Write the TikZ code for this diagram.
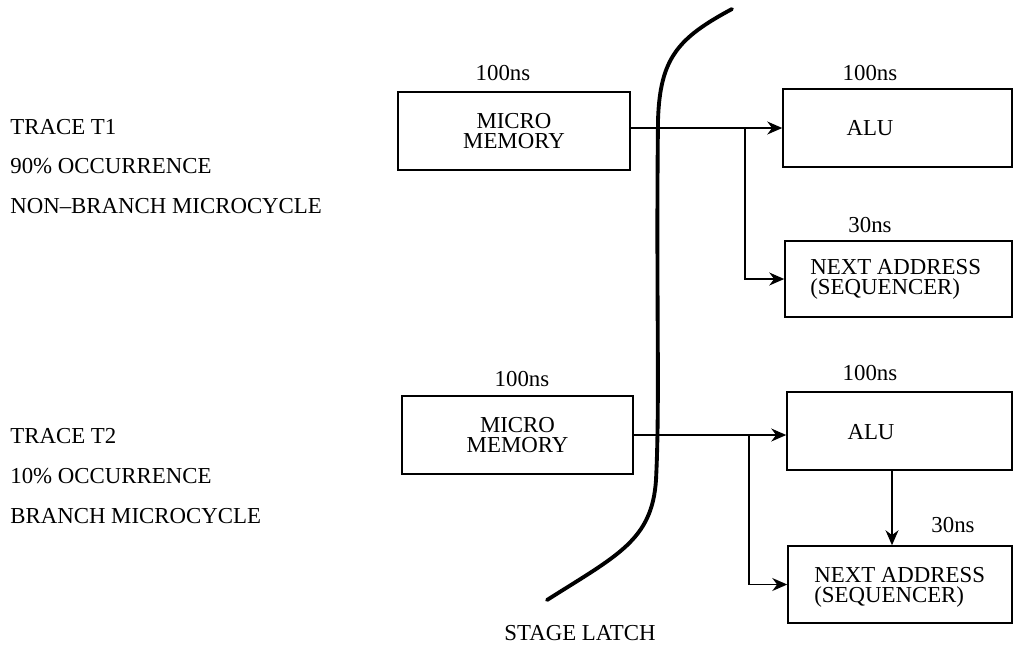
\documentclass[tikz,border=0pt]{standalone}
\usepackage{fontspec}
\setmainfont{Liberation Serif}
\usetikzlibrary{positioning, arrows.meta}
\tikzset{
  block/.style={rectangle, draw=black, line width=0.9pt, minimum height=1.56cm, inner sep=0pt},
  txt/.style={font=\fontsize{13pt}{11.5pt}\selectfont, align=left, inner sep=0pt},
  arrow/.style={line width=0.75pt, -{Stealth[length=3mm, width=2.6mm]}},
  latch/.style={line width=2.2pt, line cap=round}
}

\begin{document}
\begin{tikzpicture}[x=0.02cm, y=-0.02cm]

    \useasboundingbox (0,0) rectangle (1014,657);

    % -------------------------------------------------------------
    % TRAZAS (texto izquierdo)
    % -------------------------------------------------------------
    \node[txt, anchor=west] (t1a) at (10,127) {TRACE T1};
    \node[txt, anchor=west] (t1b) at (10,166) {90\% OCCURRENCE};
    \node[txt, anchor=west] (t1c) at (10,206) {NON--BRANCH MICROCYCLE};

    \node[txt, anchor=west] (t2a) at (10,436) {TRACE T2};
    \node[txt, anchor=west] (t2b) at (10,476) {10\% OCCURRENCE};
    \node[txt, anchor=west] (t2c) at (10,516) {BRANCH MICROCYCLE};

    % -------------------------------------------------------------
    % TRAZA T1
    % -------------------------------------------------------------
    \node[block, txt, align=center, minimum width=4.64cm] (mm1) at (514,131) {MICRO\\MEMORY};
    \node[txt] (mm1t) at (503,73) {100ns};

    \node[block, minimum width=4.58cm] (alu1) at (897.5,128) {};
    \node[txt] (alu1n) at (870,128) {ALU};
    \node[txt] (alu1t) at (870,73) {100ns};

    \node[block, minimum width=4.54cm, minimum height=1.52cm] (na1) at (898.5,279) {};
    \node[txt, anchor=west] (na1n) at (810,279) {NEXT ADDRESS\\(SEQUENCER)};
    \node[txt] (na1t) at (870,225) {30ns};

    \coordinate (br1) at (745,0);
    \draw[arrow] (mm1.east |- alu1.west) -- (alu1.west);
    \draw[arrow] (br1 |- alu1.west) |- (na1.west);

    % -------------------------------------------------------------
    % TRAZA T2
    % -------------------------------------------------------------
    \node[block, txt, align=center, minimum width=4.62cm] (mm2) at (517.5,435) {MICRO\\MEMORY};
    \node[txt] (mm2t) at (522,379) {100ns};

    \node[block, minimum width=4.5cm] (alu2) at (899.5,431) {};
    \node[txt] (alu2n) at (871,432) {ALU};
    \node[txt] (alu2t) at (870,373) {100ns};

    \node[block, minimum width=4.48cm, minimum height=1.54cm] (na2) at (900,584.5) {};
    \node[txt, anchor=west] (na2n) at (814,587) {NEXT ADDRESS\\(SEQUENCER)};
    \node[txt] (na2t) at (953,525) {30ns};

    \coordinate (br2) at (749,0);
    \coordinate (br3) at (892,0);
    \draw[arrow] (mm2.east) -- (mm2.east -| alu2.west);
    \draw[arrow] (br2 |- mm2.east) |- (na2.west);
    \draw[arrow] (br3 |- alu2.south) -- (br3 |- na2.north);

    % -------------------------------------------------------------
    % STAGE LATCH
    % -------------------------------------------------------------
    \draw[latch] (732,9) .. controls (678,38) and (660,58) .. (658,120)
        .. controls (656,300) and (660,400) .. (656,480)
        .. controls (652,540) and (618,555) .. (547,600);
    \node[txt] (sl) at (580,633) {STAGE LATCH};

\end{tikzpicture}
\end{document}
